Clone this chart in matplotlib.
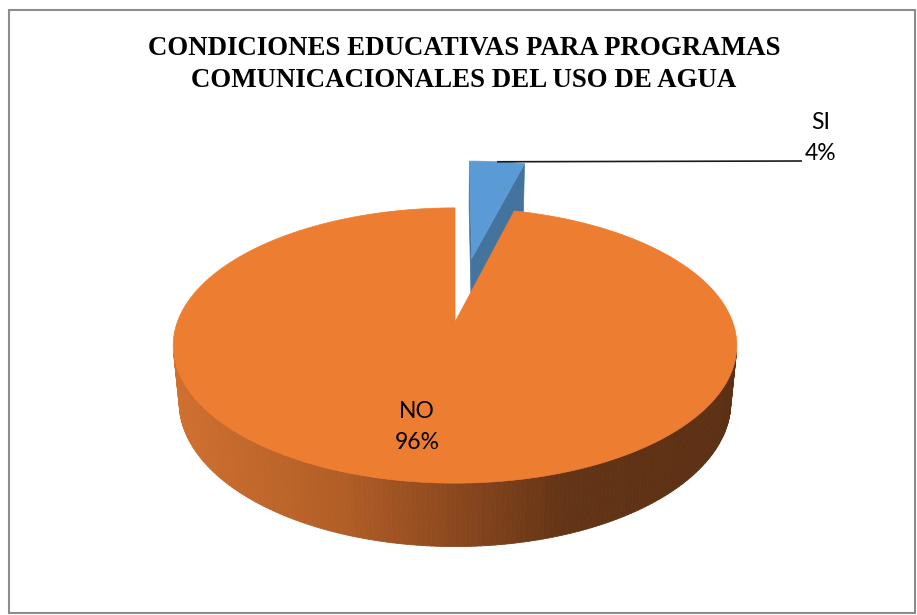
# 3-D style pie: educational conditions for water-use communication programmes

import matplotlib.pyplot as plt
import numpy as np
from matplotlib.patches import Polygon, Rectangle
from matplotlib.collections import PolyCollection
from matplotlib.colors import LinearSegmentedColormap

title = 'CONDICIONES EDUCATIVAS PARA PROGRAMAS\nCOMUNICACIONALES DEL USO DE AGUA'
labels = ['SI', 'NO']
values = [4, 96]

top_colors = ['#5B9BD5', '#ED7D31']
cut_colors = ['#44739E', '#B5602A']
explode = [0.52, 0.0]

# wall shading for the orange slice, light on the left, dark on the right
wall_cmap = LinearSegmentedColormap.from_list(
    'wall', [(0.0, '#CF7030'), (0.3, '#B25E26'), (0.5, '#8C481E'),
             (0.7, '#633416'), (1.0, '#5C3013')])

# simple perspective camera, screen units in pixels
F, D = 1459.0, 5.16
KX = 0.982
TILT = np.radians(28.2)
CX, CY = 455.0, 322.0
H = 0.23


def project(u, v, h=0.0):
    s, c = np.sin(TILT), np.cos(TILT)
    yc = v * s + h * c
    zc = D + v * c - h * s
    return CX + KX * F * u / zc, CY - F * yc / zc


fig = plt.figure(figsize=(9.17, 6.15), dpi=100)
ax = fig.add_axes([0, 0, 1, 1])
ax.set_xlim(0, 917)
ax.set_ylim(615, 0)
ax.axis('off')

# chart frame
ax.add_patch(Rectangle((9, 10), 906, 603, fill=False, edgecolor='#8C8C8C', lw=1.5))

ax.text(464, 64.5, title, ha='center', va='center', fontsize=19.4,
        fontweight='bold', family='Liberation Serif', linespacing=1.32)

total = float(sum(values))
bounds = np.cumsum([0] + values) / total * 2 * np.pi
vis_lim = -1.0 / (D * np.cos(TILT))

for i, (lab, val) in enumerate(zip(labels, values)):
    a0, a1 = bounds[i], bounds[i + 1]
    mid = 0.5 * (a0 + a1)
    ou, ov = explode[i] * np.sin(mid), explode[i] * np.cos(mid)
    th = np.linspace(a0, a1, 400)

    # radial cut faces, drawn only if they face the camera
    cam = np.array([0.0, -D * np.cos(TILT)])
    for ang, sign in ((a0, -1), (a1, 1)):
        n = sign * np.array([np.cos(ang), -np.sin(ang)])
        if n @ (cam - np.array([ou, ov])) <= 0:
            continue
        pu, pv = ou + np.sin(ang), ov + np.cos(ang)
        quad = [project(ou, ov), project(pu, pv),
                project(pu, pv, -H), project(ou, ov, -H)]
        ax.add_patch(Polygon(quad, closed=True, facecolor=cut_colors[i],
                             edgecolor=cut_colors[i], lw=0.5))

    # outer wall, front part only
    wt = th[np.cos(th) < vis_lim]
    if len(wt) > 1:
        tx, ty = project(ou + np.sin(wt), ov + np.cos(wt))
        bx, by = project(ou + np.sin(wt), ov + np.cos(wt), -H)
        quads, cols = [], []
        x0, x1 = CX - 282, CX + 282
        for k in range(len(wt) - 1):
            quads.append([(tx[k], ty[k]), (tx[k + 1], ty[k + 1]),
                          (bx[k + 1], by[k + 1]), (bx[k], by[k])])
            cols.append(wall_cmap(np.clip((tx[k] - x0) / (x1 - x0), 0, 1)))
        ax.add_collection(PolyCollection(quads, facecolors=cols,
                                         edgecolors=cols, linewidths=0.6))

    # top face
    px, py = project(ou + np.sin(th), ov + np.cos(th))
    pts = [project(ou, ov)] + list(zip(px, py))
    ax.add_patch(Polygon(pts, closed=True, facecolor=top_colors[i],
                         edgecolor=top_colors[i], lw=0.5))

# data labels
pct = [f'{v / total:.0%}' for v in values]

mid_si = 0.5 * (bounds[0] + bounds[1])
lx, ly = project(explode[0] * np.sin(mid_si) + np.sin(mid_si),
                 explode[0] * np.cos(mid_si) + np.cos(mid_si))
ax.plot([lx, 802], [ly, 161], color='#1A1A1A', lw=1.2, solid_capstyle='butt')
ax.text(821, 138, f'{labels[0]}\n{pct[0]}', ha='center', va='center',
        fontsize=16.5, family='Lato', linespacing=1.62)

ax.text(417, 427, f'{labels[1]}\n{pct[1]}', ha='center', va='center',
        fontsize=16.5, family='Lato', linespacing=1.62)

fig.savefig('out.png', dpi=100, facecolor='white')
